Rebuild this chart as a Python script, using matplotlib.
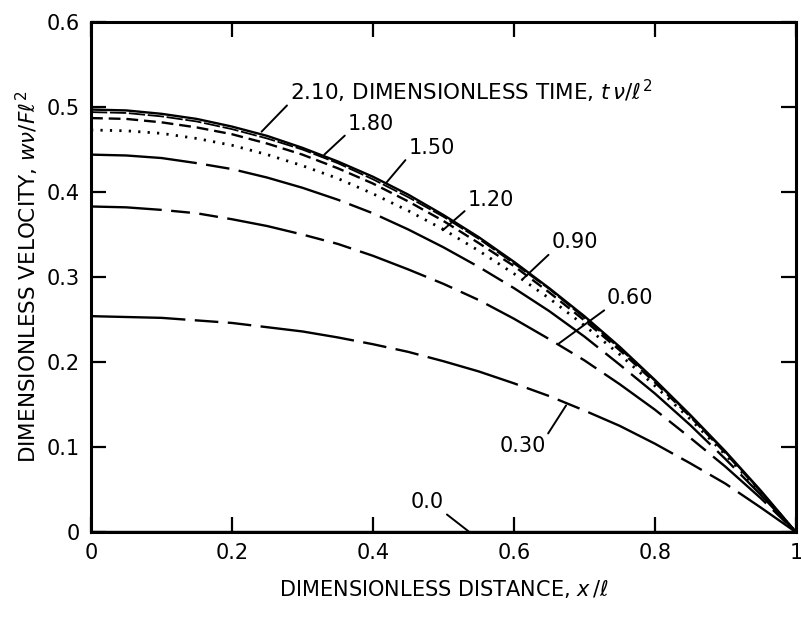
import matplotlib
matplotlib.use("Agg")
import matplotlib.pyplot as plt

plt.rcParams['font.family'] = ['DejaVu Sans']
plt.rcParams['mathtext.fontset'] = 'dejavusans'

# dimensionless distance x/l
x_vals = [0.00, 0.05, 0.10, 0.15, 0.20, 0.25, 0.30, 0.35, 0.40, 0.45, 0.50,
          0.55, 0.60, 0.65, 0.70, 0.75, 0.80, 0.85, 0.90, 0.95, 1.00]

# dimensionless velocity for each dimensionless time
v_030 = [0.254, 0.253, 0.252, 0.249, 0.246, 0.241, 0.236, 0.229, 0.221, 0.212, 0.201,
         0.189, 0.175, 0.160, 0.143, 0.125, 0.104, 0.081, 0.057, 0.029, 0.000]
v_060 = [0.383, 0.382, 0.379, 0.375, 0.368, 0.360, 0.350, 0.339, 0.325, 0.309, 0.292,
         0.273, 0.251, 0.227, 0.202, 0.174, 0.144, 0.111, 0.077, 0.040, 0.000]
v_090 = [0.444, 0.443, 0.440, 0.434, 0.427, 0.417, 0.405, 0.391, 0.375, 0.356, 0.335,
         0.312, 0.287, 0.260, 0.230, 0.197, 0.163, 0.126, 0.086, 0.044, 0.000]
v_120 = [0.473, 0.472, 0.469, 0.463, 0.455, 0.444, 0.431, 0.416, 0.398, 0.378, 0.356,
         0.331, 0.304, 0.275, 0.243, 0.209, 0.172, 0.133, 0.091, 0.047, 0.000]
v_150 = [0.487, 0.486, 0.482, 0.476, 0.468, 0.457, 0.444, 0.428, 0.410, 0.389, 0.366,
         0.340, 0.313, 0.282, 0.249, 0.214, 0.176, 0.136, 0.093, 0.048, 0.000]
v_180 = [0.494, 0.493, 0.489, 0.483, 0.474, 0.463, 0.450, 0.434, 0.415, 0.394, 0.371,
         0.345, 0.316, 0.286, 0.252, 0.216, 0.178, 0.137, 0.094, 0.048, 0.000]
v_210 = [0.497, 0.496, 0.492, 0.486, 0.477, 0.466, 0.452, 0.436, 0.418, 0.397, 0.373,
         0.347, 0.318, 0.287, 0.254, 0.218, 0.179, 0.138, 0.095, 0.049, 0.000]
v_000 = [0.0] * 21

x_ticks = [0, 0.2, 0.4, 0.6, 0.8, 1.0]
x_tick_labels = ['0', '0.2', '0.4', '0.6', '0.8', '1']
y_ticks = [0, 0.1, 0.2, 0.3, 0.4, 0.5, 0.6]
y_tick_labels = ['0', '0.1', '0.2', '0.3', '0.4', '0.5', '0.6']

fig = plt.figure(figsize=(8.01, 6.18), dpi=100)
ax = fig.add_axes([0.1136, 0.139, 0.880, 0.8254])

lw = 1.7
ax.plot(x_vals, v_000, color='black', lw=lw)
ax.plot(x_vals, v_030, color='black', lw=lw, dashes=(40, 4, 10, 4, 10, 4))
ax.plot(x_vals, v_060, color='black', lw=lw, dashes=(30, 4, 8, 4, 8, 4))
ax.plot(x_vals, v_090, color='black', lw=lw, dashes=(45, 4, 10, 4))
ax.plot(x_vals, v_120, color='black', lw=2.0, dashes=(0.8, 2.6))
ax.plot(x_vals, v_150, color='black', lw=lw, dashes=(5, 2.5))
ax.plot(x_vals, v_180, color='black', lw=1.3, dashes=(9, 1.5))
ax.plot(x_vals, v_210, color='black', lw=lw)

ax.set_xlim(0, 1)
ax.set_ylim(0, 0.6)
ax.set_xticks(x_ticks)
ax.set_xticklabels(x_tick_labels)
ax.set_yticks(y_ticks)
ax.set_yticklabels(y_tick_labels)
ax.tick_params(direction='in', length=11, width=1.6, top=True, right=True,
               labelsize=15, pad=8)
for s in ax.spines.values():
    s.set_linewidth(2.2)

ax.set_xlabel(r'DIMENSIONLESS DISTANCE, $x\,/\ell$', fontsize=15, labelpad=11)
ax.set_ylabel(r'DIMENSIONLESS VELOCITY, $w\nu/F\ell^2$', fontsize=15.5, labelpad=4)

lead = dict(arrowstyle='-', color='black', lw=1.4, shrinkA=0, shrinkB=0)

def label(txt, xy, xytext, ha, va, relpos, fs=15):
    p = dict(lead)
    p['relpos'] = relpos
    ax.annotate(txt, xy=xy, xytext=xytext, textcoords='data', ha=ha, va=va,
                fontsize=fs, arrowprops=p)

label(r'2.10, DIMENSIONLESS TIME, $t\,\nu/\ell^2$', (0.242, 0.471), (0.282, 0.518),
      'left', 'center', (0.0, 0.1), fs=15.5)
label('1.80', (0.331, 0.444), (0.364, 0.480), 'left', 'center', (0.0, 0.05))
label('1.50', (0.419, 0.411), (0.450, 0.452), 'left', 'center', (0.0, 0.05))
label('1.20', (0.499, 0.355), (0.534, 0.391), 'left', 'center', (0.0, 0.05))
label('0.90', (0.613, 0.298), (0.653, 0.341), 'left', 'center', (0.0, 0.0))
label('0.60', (0.664, 0.222), (0.732, 0.275), 'left', 'center', (0.0, 0.0))
label('0.30', (0.674, 0.149), (0.646, 0.101), 'right', 'center', (1.0, 1.0))
label('0.0', (0.537, 0.0), (0.501, 0.035), 'right', 'center', (1.0, 0.0))

fig.savefig('out.png', dpi=100)
